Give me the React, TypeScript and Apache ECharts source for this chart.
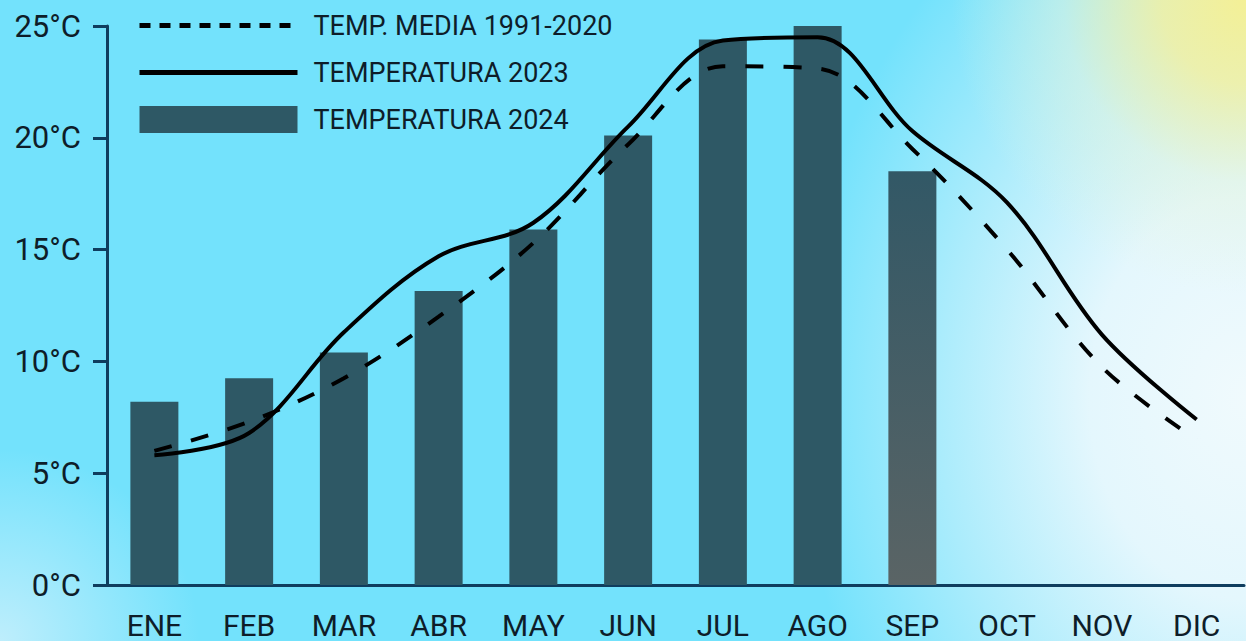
import React, { useEffect, useRef } from "react";
import * as echarts from "echarts";

const categories = ["ENE", "FEB", "MAR", "ABR", "MAY", "JUN", "JUL", "AGO", "SEP", "OCT", "NOV", "DIC"];
const media19912020 = [6.0, 7.3, 9.25, 12.0, 15.3, 19.7, 23.2, 23.1, 19.5, 15.0, 9.75, 6.5];
const temp2023 = [5.8, 6.8, 11.3, 14.7, 16.2, 20.5, 24.35, 24.5, 20.3, 17.1, 11.2, 7.4];
const temp2024 = [8.2, 9.25, 10.4, 13.15, 15.9, 20.1, 24.4, 25.0, 18.5];
const yTicks = [0, 5, 10, 15, 20, 25];

const NAME_MEDIA = "TEMP. MEDIA 1991-2020";
const NAME_2023 = "TEMPERATURA 2023";
const NAME_2024 = "TEMPERATURA 2024";

const FONT = "Roboto, 'Noto Sans', sans-serif";
const TEXT = "#0e1d29";
const AXIS = "#0f3d5e";
const BAR = "#2e5865";

export default function App() {
  const ref = useRef<HTMLDivElement>(null);

  useEffect(() => {
    if (!ref.current) return;
    const chart = echarts.init(ref.current, null, { renderer: "svg" });
    const barData = temp2024.map((v, i) =>
      categories[i] === "SEP"
        ? {
            value: v,
            itemStyle: {
              color: new echarts.graphic.LinearGradient(0, 0, 0, 1, [
                { offset: 0, color: "#325866" },
                { offset: 1, color: "#5a6465" },
              ]),
            },
          }
        : v
    );
    const hidden = { color: "rgba(0,0,0,0)", borderWidth: 0, opacity: 0 };
    chart.setOption({
      animation: false,
      backgroundColor: "transparent",
      grid: { left: 107, right: 2, top: 26, bottom: 56, containLabel: false },
      legend: {
        orient: "vertical",
        left: 137,
        top: 12,
        padding: 0,
        itemWidth: 158,
        itemHeight: 27,
        itemGap: 20,
        selectedMode: false,
        textStyle: {
          fontFamily: FONT,
          fontSize: 27,
          color: TEXT,
          lineHeight: 27,
          padding: [0, 0, 0, 11],
        },
        data: [
          { name: NAME_MEDIA, lineStyle: { type: [11, 9], width: 5, color: "#000" }, itemStyle: hidden },
          { name: NAME_2023, lineStyle: { width: 5, color: "#000" }, itemStyle: hidden },
          { name: NAME_2024, icon: "rect", itemStyle: { color: BAR } },
        ],
      },
      xAxis: {
        type: "category",
        data: categories,
        axisLine: { show: true, lineStyle: { color: AXIS, width: 3 } },
        axisTick: { show: false },
        axisLabel: {
          fontFamily: FONT,
          fontSize: 30,
          color: TEXT,
          margin: 25,
        },
      },
      yAxis: {
        type: "value",
        min: 0,
        max: 25,
        interval: 5,
        splitLine: { show: false },
        axisLine: { show: true, lineStyle: { color: AXIS, width: 3 } },
        axisTick: { show: true, length: 14, lineStyle: { color: AXIS, width: 3 } },
        axisLabel: {
          fontFamily: FONT,
          fontSize: 31,
          color: TEXT,
          margin: 26,
          formatter: (v: number) => (yTicks.includes(v) ? `${v}°C` : ""),
        },
      },
      series: [
        {
          name: NAME_2024,
          type: "bar",
          data: barData,
          barWidth: 48,
          itemStyle: { color: BAR },
          z: 1,
        },
        {
          name: NAME_MEDIA,
          type: "line",
          data: media19912020,
          smooth: 0.35,
          symbol: "none",
          itemStyle: { color: "#000" },
          lineStyle: { color: "#000", width: 4, type: [18, 20] },
          z: 3,
        },
        {
          name: NAME_2023,
          type: "line",
          data: temp2023,
          smooth: 0.35,
          symbol: "none",
          itemStyle: { color: "#000" },
          lineStyle: { color: "#000", width: 4 },
          z: 4,
        },
      ],
    });
    return () => chart.dispose();
  }, []);

  const bg = [
    "radial-gradient(circle at 100% 0%, rgba(244,240,150,1) 0%, rgba(244,240,160,0.85) 6%, rgba(230,244,215,0.45) 13%, rgba(220,244,235,0) 21%)",
    "radial-gradient(ellipse 36% 90% at 100% 62%, rgba(240,250,253,1) 0%, rgba(234,248,253,0.95) 35%, rgba(210,243,252,0.6) 68%, rgba(190,238,252,0) 100%)",
    "radial-gradient(ellipse 16% 30% at 0% 100%, rgba(190,238,252,1) 0%, rgba(190,238,252,0) 100%)",
    "#73e2fc",
  ].join(",");

  return (
    <div
      style={{
        position: "fixed",
        left: 0,
        top: 0,
        width: 1246,
        height: 641,
        background: bg,
        overflow: "hidden",
      }}
    >
      <div ref={ref} style={{ width: 1246, height: 641 }} />
    </div>
  );
}
